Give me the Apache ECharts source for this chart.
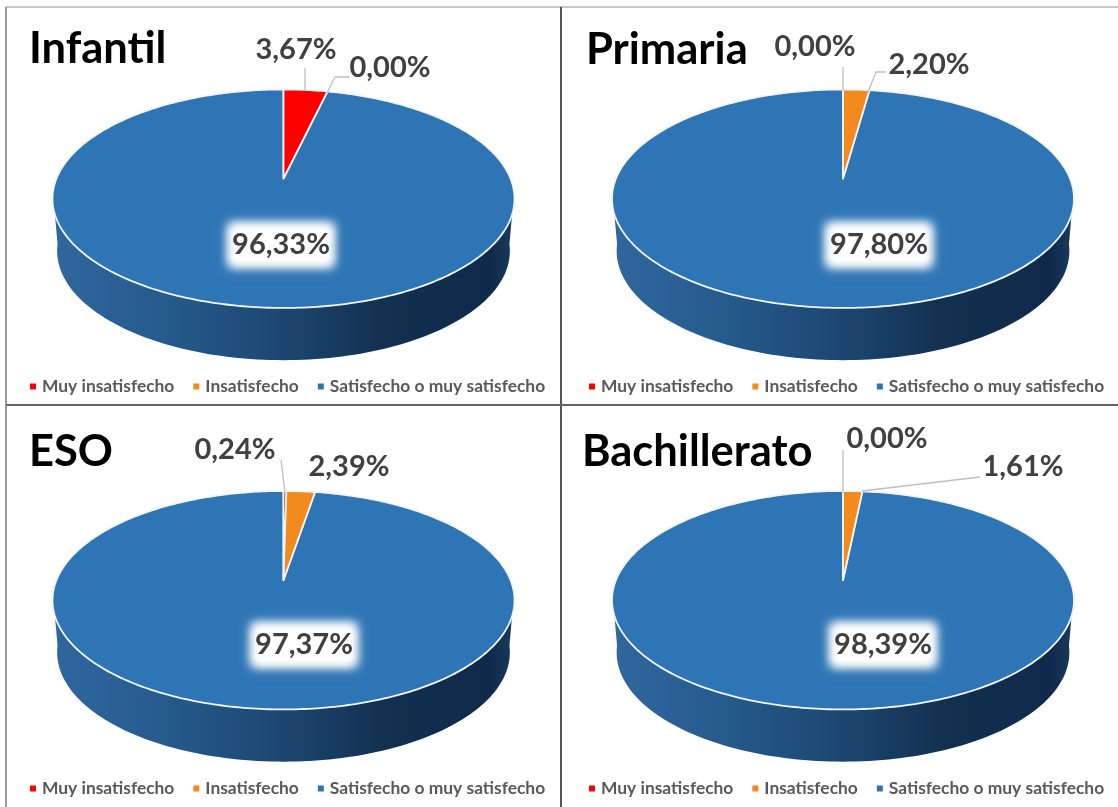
<!DOCTYPE html>
<html><head><meta charset="utf-8">
<style>html,body{margin:0;padding:0;background:#fff}#c{width:1118px;height:807px;filter:blur(0.5px)}</style>
<script src="https://cdn.jsdelivr.net/npm/echarts@6/dist/echarts.min.js"></script>
</head><body><div id="c"></div>
<script>
// ---- data ----
const panels = ['Infantil', 'Primaria', 'ESO', 'Bachillerato'];
const categories = ['Muy insatisfecho', 'Insatisfecho', 'Satisfecho o muy satisfecho'];
const muyInsatisfecho = [3.67, 0.00, 0.24, 0.00];
const insatisfecho = [0.00, 2.20, 2.39, 1.61];
const satisfecho = [96.33, 97.80, 97.37, 98.39];
const seriesValues = [muyInsatisfecho, insatisfecho, satisfecho];
const colors = ['#ff0000', '#f28a1e', '#2e75b6'];

// ---- layout ----
const apex = [[283.5, 178.5], [843, 178.5], [283.5, 580], [843, 580]];
const RX = 227, RY = 105.5, K = 0.185, DEPTH = 0.495, WALL_X = 0.98;
const titlePos = [[29, 27], [586, 28], [29, 430], [582, 430]];
const labelPos = [
  [[296, 50], [390, 68], [281, 245]],
  [[815, 47], [929, 65], [879, 245]],
  [[235, 450], [349, 467], [304, 645]],
  [[887, 439], [1023, 467], [883, 645]]
];
const leaders = [
  [[[305, 68], [305, 91]], [[349, 77], [335, 77], [327, 93]], null],
  [[[843, 67], [843, 91]], [[886, 72], [876, 72], [868, 92]], null],
  [[[281, 460], [285, 493]], null, null],
  [[[843, 450], [843, 493]], [[980, 477], [862, 491]], null]
];
const legendPos = [[30, 378], [589, 378], [30, 780], [589, 780]];

// perspective projection of a pie angle (fraction of full turn, clockwise from top)
function project(frac) {
  const t = frac * 2 * Math.PI, u = Math.sin(t), v = Math.cos(t), w = 1 + K * v;
  return [u / w, v / w];
}
const FONT = 'Lato, "Open Sans", sans-serif';
const OFF = 3000;

function renderSlice(s, p) {
  return function (params, api) {
    const value = api.value(0), start = api.value(1), children = [];
    if (value > 0) {
      const pts = [api.coord([0, 0])];
      const n = Math.max(2, Math.ceil(value * 4));
      for (let i = 0; i <= n; i++) {
        pts.push(api.coord(project((start + value * i / n) / 100)));
      }
      children.push({
        type: 'polygon', shape: { points: pts },
        style: { fill: colors[s], stroke: '#f2f5f8', lineWidth: 1.8, lineJoin: 'round' }
      });
    }
    if (leaders[p][s]) {
      children.push({
        type: 'polyline', shape: { points: leaders[p][s] }, z2: 5,
        style: { fill: 'none', stroke: '#bfbfbf', lineWidth: 1.3 }
      });
    }
    const pos = labelPos[p][s];
    if (s === 2) {
      // soft white glow behind the label: only the shadow of an off-canvas box lands here
      for (let g = 0; g < 2; g++) {
        children.push({
          type: 'rect', z2: 6,
          shape: { x: pos[0] - 52 - OFF, y: pos[1] - 21, width: 104, height: 42 },
          style: { fill: '#fff', shadowColor: '#fff', shadowBlur: 10, shadowOffsetX: OFF }
        });
      }
    }
    children.push({
      type: 'text', z2: 7,
      style: {
        text: value.toFixed(2).replace('.', ',') + '%', x: pos[0], y: pos[1],
        align: 'center', verticalAlign: 'middle',
        font: 'bold 29px ' + FONT, fill: '#404040'
      }
    });
    return { type: 'group', children };
  };
}

function renderWall(params, api) {
  const pts = [];
  const a = 0.27, b = 0.73, n = 120;
  pts.push(api.coord(project(a)));
  for (let i = 0; i <= n; i++) {
    const q = project(a + (b - a) * i / n);
    pts.push(api.coord([q[0] * WALL_X, q[1] - DEPTH]));
  }
  pts.push(api.coord(project(b)));
  return {
    type: 'polygon', shape: { points: pts },
    style: {
      fill: {
        type: 'linear', x: 0, y: 0, x2: 1, y2: 0,
        colorStops: [
          { offset: 0, color: '#2f679e' },
          { offset: 0.25, color: '#255a8c' },
          { offset: 0.5, color: '#1c4670' },
          { offset: 0.72, color: '#12304f' },
          { offset: 0.95, color: '#10294a' },
          { offset: 1, color: '#1a3c60' }
        ]
      }
    }
  };
}

const series = [], grid = [], xAxis = [], yAxis = [], title = [], legend = [];
panels.forEach((name, p) => {
  grid.push({ left: apex[p][0] - RX, top: apex[p][1] - RY, width: 2 * RX, height: 2 * RY });
  xAxis.push({ type: 'value', gridIndex: p, min: -1, max: 1, show: false });
  yAxis.push({ type: 'value', gridIndex: p, min: -1, max: 1, show: false });
  title.push({
    text: name, left: titlePos[p][0], top: titlePos[p][1], padding: 0,
    textStyle: { fontFamily: FONT, fontWeight: 'bold', fontSize: 43.5, color: '#000' }
  });
  legend.push({
    data: categories, left: legendPos[p][0], top: legendPos[p][1], padding: 0,
    icon: 'rect', itemWidth: 6, itemHeight: 6, itemGap: 19, selectedMode: false,
    textStyle: { fontFamily: FONT, fontSize: 17.4, fontWeight: 'bold', color: '#595959', padding: [0, 0, 0, 1] }
  });
  series.push({
    type: 'custom', xAxisIndex: p, yAxisIndex: p, z: 1, clip: false, silent: true,
    renderItem: renderWall, data: [[0, 0]]
  });
  let start = 0;
  categories.forEach((cat, s) => {
    const v = seriesValues[s][p];
    series.push({
      type: 'custom', name: cat, xAxisIndex: p, yAxisIndex: p, z: s === 2 ? 2 : 3,
      clip: false, silent: true, itemStyle: { color: colors[s] },
      renderItem: renderSlice(s, p), data: [[v, start]]
    });
    start += v;
  });
});

const frame = [
  [6, 7, 1118, 7, '#c8c8c8', 2],
  [6, 7, 6, 807, '#9a9a9a', 2],
  [561, 7, 561, 807, '#555', 2],
  [6, 405, 1118, 405, '#666', 2]
].map(l => ({
  type: 'line', silent: true, shape: { x1: l[0], y1: l[1], x2: l[2], y2: l[3] },
  style: { stroke: l[4], lineWidth: l[5] }
}));

const chart = echarts.init(document.getElementById('c'));
chart.setOption({
  animation: false, backgroundColor: '#fff', tooltip: { show: false },
  grid, xAxis, yAxis, title, legend, series, graphic: { elements: frame }
});
</script></body></html>
